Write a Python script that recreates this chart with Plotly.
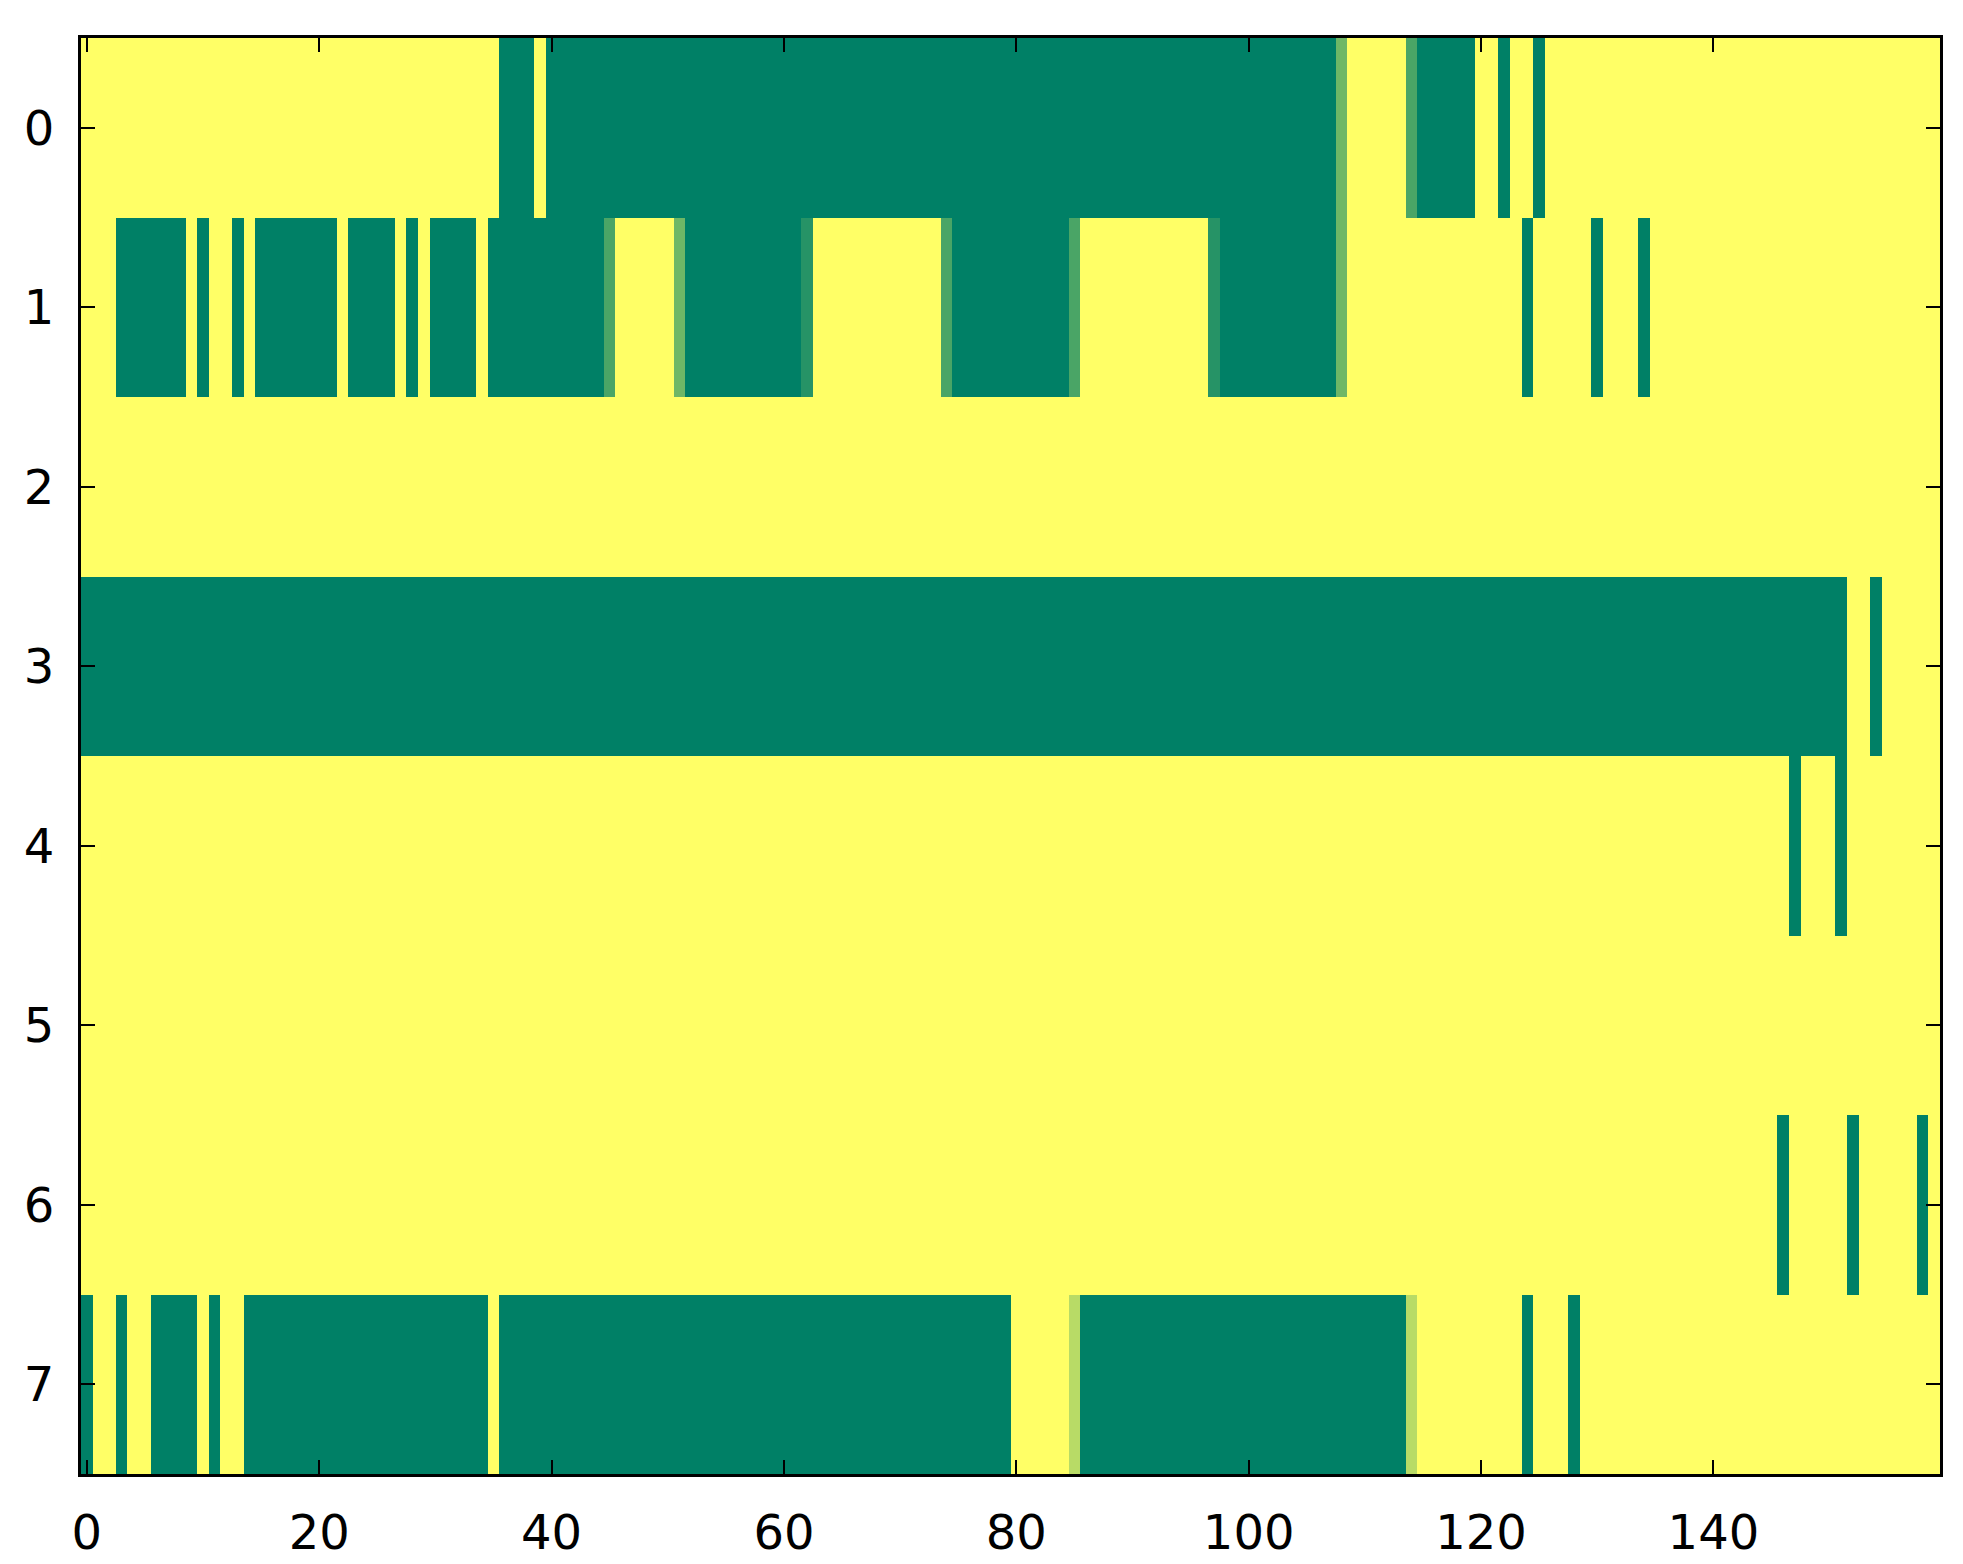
import plotly.graph_objects as go

# 8 rows x 160 columns (0 = green, 1 = yellow)
row_0 = [1, 1, 1, 1, 1, 1, 1, 1, 1, 1, 1, 1, 1, 1, 1, 1, 1, 1, 1, 1,
         1, 1, 1, 1, 1, 1, 1, 1, 1, 1, 1, 1, 1, 1, 1, 1, 0, 0, 0, 1,
         0, 0, 0, 0, 0, 0, 0, 0, 0, 0, 0, 0, 0, 0, 0, 0, 0, 0, 0, 0,
         0, 0, 0, 0, 0, 0, 0, 0, 0, 0, 0, 0, 0, 0, 0, 0, 0, 0, 0, 0,
         0, 0, 0, 0, 0, 0, 0, 0, 0, 0, 0, 0, 0, 0, 0, 0, 0, 0, 0, 0,
         0, 0, 0, 0, 0, 0, 0, 0, 0.43, 1, 1, 1, 1, 1, 0.29, 0, 0, 0, 0, 0,
         1, 1, 0, 1, 1, 0, 1, 1, 1, 1, 1, 1, 1, 1, 1, 1, 1, 1, 1, 1,
         1, 1, 1, 1, 1, 1, 1, 1, 1, 1, 1, 1, 1, 1, 1, 1, 1, 1, 1, 1]
row_1 = [1, 1, 1, 0, 0, 0, 0, 0, 0, 1, 0, 1, 1, 0, 1, 0, 0, 0, 0, 0,
         0, 0, 1, 0, 0, 0, 0, 1, 0, 1, 0, 0, 0, 0, 1, 0, 0, 0, 0, 0,
         0, 0, 0, 0, 0, 0.29, 1, 1, 1, 1, 1, 0.43, 0, 0, 0, 0, 0, 0, 0, 0,
         0, 0, 0.15, 1, 1, 1, 1, 1, 1, 1, 1, 1, 1, 1, 0.29, 0, 0, 0, 0, 0,
         0, 0, 0, 0, 0, 0.29, 1, 1, 1, 1, 1, 1, 1, 1, 1, 1, 1, 0.15, 0, 0,
         0, 0, 0, 0, 0, 0, 0, 0, 0.43, 1, 1, 1, 1, 1, 1, 1, 1, 1, 1, 1,
         1, 1, 1, 1, 0, 1, 1, 1, 1, 1, 0, 1, 1, 1, 0, 1, 1, 1, 1, 1,
         1, 1, 1, 1, 1, 1, 1, 1, 1, 1, 1, 1, 1, 1, 1, 1, 1, 1, 1, 1]
row_2 = [1, 1, 1, 1, 1, 1, 1, 1, 1, 1, 1, 1, 1, 1, 1, 1, 1, 1, 1, 1,
         1, 1, 1, 1, 1, 1, 1, 1, 1, 1, 1, 1, 1, 1, 1, 1, 1, 1, 1, 1,
         1, 1, 1, 1, 1, 1, 1, 1, 1, 1, 1, 1, 1, 1, 1, 1, 1, 1, 1, 1,
         1, 1, 1, 1, 1, 1, 1, 1, 1, 1, 1, 1, 1, 1, 1, 1, 1, 1, 1, 1,
         1, 1, 1, 1, 1, 1, 1, 1, 1, 1, 1, 1, 1, 1, 1, 1, 1, 1, 1, 1,
         1, 1, 1, 1, 1, 1, 1, 1, 1, 1, 1, 1, 1, 1, 1, 1, 1, 1, 1, 1,
         1, 1, 1, 1, 1, 1, 1, 1, 1, 1, 1, 1, 1, 1, 1, 1, 1, 1, 1, 1,
         1, 1, 1, 1, 1, 1, 1, 1, 1, 1, 1, 1, 1, 1, 1, 1, 1, 1, 1, 1]
row_3 = [0, 0, 0, 0, 0, 0, 0, 0, 0, 0, 0, 0, 0, 0, 0, 0, 0, 0, 0, 0,
         0, 0, 0, 0, 0, 0, 0, 0, 0, 0, 0, 0, 0, 0, 0, 0, 0, 0, 0, 0,
         0, 0, 0, 0, 0, 0, 0, 0, 0, 0, 0, 0, 0, 0, 0, 0, 0, 0, 0, 0,
         0, 0, 0, 0, 0, 0, 0, 0, 0, 0, 0, 0, 0, 0, 0, 0, 0, 0, 0, 0,
         0, 0, 0, 0, 0, 0, 0, 0, 0, 0, 0, 0, 0, 0, 0, 0, 0, 0, 0, 0,
         0, 0, 0, 0, 0, 0, 0, 0, 0, 0, 0, 0, 0, 0, 0, 0, 0, 0, 0, 0,
         0, 0, 0, 0, 0, 0, 0, 0, 0, 0, 0, 0, 0, 0, 0, 0, 0, 0, 0, 0,
         0, 0, 0, 0, 0, 0, 0, 0, 0, 0, 0, 0, 1, 1, 0, 1, 1, 1, 1, 1]
row_4 = [1, 1, 1, 1, 1, 1, 1, 1, 1, 1, 1, 1, 1, 1, 1, 1, 1, 1, 1, 1,
         1, 1, 1, 1, 1, 1, 1, 1, 1, 1, 1, 1, 1, 1, 1, 1, 1, 1, 1, 1,
         1, 1, 1, 1, 1, 1, 1, 1, 1, 1, 1, 1, 1, 1, 1, 1, 1, 1, 1, 1,
         1, 1, 1, 1, 1, 1, 1, 1, 1, 1, 1, 1, 1, 1, 1, 1, 1, 1, 1, 1,
         1, 1, 1, 1, 1, 1, 1, 1, 1, 1, 1, 1, 1, 1, 1, 1, 1, 1, 1, 1,
         1, 1, 1, 1, 1, 1, 1, 1, 1, 1, 1, 1, 1, 1, 1, 1, 1, 1, 1, 1,
         1, 1, 1, 1, 1, 1, 1, 1, 1, 1, 1, 1, 1, 1, 1, 1, 1, 1, 1, 1,
         1, 1, 1, 1, 1, 1, 1, 0, 1, 1, 1, 0, 1, 1, 1, 1, 1, 1, 1, 1]
row_5 = [1, 1, 1, 1, 1, 1, 1, 1, 1, 1, 1, 1, 1, 1, 1, 1, 1, 1, 1, 1,
         1, 1, 1, 1, 1, 1, 1, 1, 1, 1, 1, 1, 1, 1, 1, 1, 1, 1, 1, 1,
         1, 1, 1, 1, 1, 1, 1, 1, 1, 1, 1, 1, 1, 1, 1, 1, 1, 1, 1, 1,
         1, 1, 1, 1, 1, 1, 1, 1, 1, 1, 1, 1, 1, 1, 1, 1, 1, 1, 1, 1,
         1, 1, 1, 1, 1, 1, 1, 1, 1, 1, 1, 1, 1, 1, 1, 1, 1, 1, 1, 1,
         1, 1, 1, 1, 1, 1, 1, 1, 1, 1, 1, 1, 1, 1, 1, 1, 1, 1, 1, 1,
         1, 1, 1, 1, 1, 1, 1, 1, 1, 1, 1, 1, 1, 1, 1, 1, 1, 1, 1, 1,
         1, 1, 1, 1, 1, 1, 1, 1, 1, 1, 1, 1, 1, 1, 1, 1, 1, 1, 1, 1]
row_6 = [1, 1, 1, 1, 1, 1, 1, 1, 1, 1, 1, 1, 1, 1, 1, 1, 1, 1, 1, 1,
         1, 1, 1, 1, 1, 1, 1, 1, 1, 1, 1, 1, 1, 1, 1, 1, 1, 1, 1, 1,
         1, 1, 1, 1, 1, 1, 1, 1, 1, 1, 1, 1, 1, 1, 1, 1, 1, 1, 1, 1,
         1, 1, 1, 1, 1, 1, 1, 1, 1, 1, 1, 1, 1, 1, 1, 1, 1, 1, 1, 1,
         1, 1, 1, 1, 1, 1, 1, 1, 1, 1, 1, 1, 1, 1, 1, 1, 1, 1, 1, 1,
         1, 1, 1, 1, 1, 1, 1, 1, 1, 1, 1, 1, 1, 1, 1, 1, 1, 1, 1, 1,
         1, 1, 1, 1, 1, 1, 1, 1, 1, 1, 1, 1, 1, 1, 1, 1, 1, 1, 1, 1,
         1, 1, 1, 1, 1, 1, 0, 1, 1, 1, 1, 1, 0, 1, 1, 1, 1, 1, 0, 1]
row_7 = [0, 1, 1, 0, 1, 1, 0, 0, 0, 0, 1, 0, 1, 1, 0, 0, 0, 0, 0, 0,
         0, 0, 0, 0, 0, 0, 0, 0, 0, 0, 0, 0, 0, 0, 0, 1, 0, 0, 0, 0,
         0, 0, 0, 0, 0, 0, 0, 0, 0, 0, 0, 0, 0, 0, 0, 0, 0, 0, 0, 0,
         0, 0, 0, 0, 0, 0, 0, 0, 0, 0, 0, 0, 0, 0, 0, 0, 0, 0, 0, 0,
         1, 1, 1, 1, 1, 0.72, 0, 0, 0, 0, 0, 0, 0, 0, 0, 0, 0, 0, 0, 0,
         0, 0, 0, 0, 0, 0, 0, 0, 0, 0, 0, 0, 0, 0, 0.72, 1, 1, 1, 1, 1,
         1, 1, 1, 1, 0, 1, 1, 1, 0, 1, 1, 1, 1, 1, 1, 1, 1, 1, 1, 1,
         1, 1, 1, 1, 1, 1, 1, 1, 1, 1, 1, 1, 1, 1, 1, 1, 1, 1, 1, 1]

rows = [row_0, row_1, row_2, row_3, row_4, row_5, row_6, row_7]

x_ticks = [0, 20, 40, 60, 80, 100, 120, 140]
y_ticks = [0, 1, 2, 3, 4, 5, 6, 7]

# matplotlib "summer" colormap
summer = [[0.0, 'rgb(0,128,102)'], [1.0, 'rgb(255,255,102)']]

fig = go.Figure(go.Heatmap(
    z=rows,
    x0=0, dx=1, y0=0, dy=1,
    colorscale=summer, zmin=0, zmax=1,
    showscale=False, hoverongaps=False,
))

axis_style = dict(
    showline=True, linecolor='black', linewidth=3, mirror='ticks',
    ticks='inside', ticklen=14, tickwidth=2, tickcolor='black',
    showgrid=False, zeroline=False,
    tickfont=dict(family='DejaVu Sans', size=48, color='black'),
)

fig.update_xaxes(range=[-0.5, 159.5], tickvals=x_ticks, ticklabelstandoff=14, **axis_style)
fig.update_yaxes(range=[7.5, -0.5], tickvals=y_ticks, ticklabelstandoff=14, **axis_style)

fig.update_layout(
    width=1963, height=1564,
    margin=dict(l=73, r=31, t=30, b=95),
    paper_bgcolor='white', plot_bgcolor='white',
    font=dict(family='DejaVu Sans', color='black'),
)

fig.write_html("out.html")
